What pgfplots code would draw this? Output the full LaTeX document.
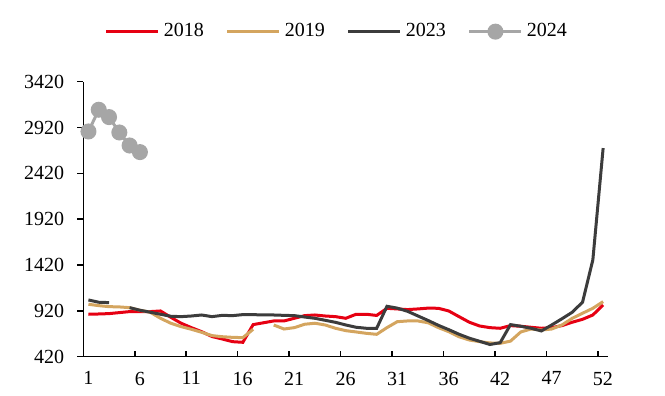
\documentclass[border=0pt]{standalone}
\usepackage{pgfplots}
\pgfplotsset{compat=1.18}
\usepackage{fontspec}
\setmainfont{Liberation Serif}
\definecolor{cRed}{HTML}{E60012}
\definecolor{cGold}{HTML}{D4A55F}
\definecolor{cDark}{HTML}{3C3C3C}
\definecolor{cLight}{HTML}{A6A6A6}
\begin{document}
\begin{tikzpicture}
\path[use as bounding box] (-41.65pt,-19.65pt) rectangle (290.85pt,178.35pt);
\begin{axis}[
  at={(0,0)}, anchor=south west,
  scale only axis, width=262.5pt, height=137.5pt,
  xmin=0.5, xmax=51.5, ymin=420, ymax=3420,
  axis lines=left, axis line style={-, line width=0.75pt},
  ytick={420,920,...,3420},
  xtick={0.5,5.5,...,50.5},
  xticklabels={1,6,11,16,21,26,31,36,42,47,52},
  xticklabel style={xshift=2.5pt, yshift=-4pt},
  yticklabel style={xshift=-3pt},
  x tick style={line width=0.75pt, black},
  y tick style={line width=0.75pt, black},
  xtick align=inside, ytick align=outside,
  major tick length=3pt,
  tick label style={font=\fontsize{10}{12}\selectfont},
  /pgf/number format/assume math mode=true,
  /pgf/number format/1000 sep={},
  unbounded coords=jump,
  legend columns=4,
  legend style={at={(0.485,1.182)}, anchor=center, draw=none, fill=none,
    font=\fontsize{10}{12}\selectfont, column sep=0pt,
    /tikz/every even column/.append style={column sep=9pt}},
  legend image code/.code={\draw[mark repeat=2,mark phase=2,#1] plot coordinates {(0pt,0pt) (13pt,0pt) (26pt,0pt)};},
]
\addplot[cRed, line width=1.5pt, no marks] coordinates {
(1,883)(2,886)(3,890)(4,901)(5,912)(6,912)(7,912)(8,919)(9,850)(10,785)
(11,737)(12,693)(13,640)(14,613)(15,584)(16,577)(17,770)(18,790)(19,810)(20,810)
(21,839)(22,868)(23,875)(24,864)(25,857)(26,839)(27,883)(28,883)(29,870)(30,948)
(31,941)(32,934)(33,941)(34,950)(35,948)(36,919)(37,857)(38,796)(39,755)(40,737)
(41,730)(42,759)(43,752)(44,741)(45,730)(46,737)(47,759)(48,796)(49,828)(50,875)
(51,985)};
\addlegendentry{2018}
\addplot[cGold, line width=1.5pt, no marks] coordinates {
(1,992)(2,977)(3,966)(4,963)(5,955)(6,927)(7,905)(8,839)(9,785)(10,748)
(11,719)(12,686)(13,650)(14,638)(15,631)(16,628)(17,719)(18,nan)(19,766)(20,722)
(21,737)(22,774)(23,785)(24,766)(25,730)(26,704)(27,690)(28,675)(29,664)(30,737)
(31,802)(32,810)(33,810)(34,790)(35,737)(36,693)(37,638)(38,602)(39,584)(40,570)
(41,566)(42,590)(43,690)(44,722)(45,711)(46,722)(47,766)(48,839)(49,894)(50,948)
(51,1021)};
\addlegendentry{2019}
\addplot[cDark, line width=1.5pt, no marks] coordinates {
(1,1039)(2,1014)(3,1010)(4,nan)(5,955)(6,927)(7,905)(8,883)(9,861)(10,857)
(11,864)(12,875)(13,857)(14,871)(15,868)(16,879)(17,879)(18,875)(19,875)(20,871)
(21,868)(22,853)(23,839)(24,817)(25,795)(26,766)(27,741)(28,730)(29,730)(30,970)
(31,950)(32,915)(33,865)(34,815)(35,762)(36,715)(37,665)(38,622)(39,588)(40,553)
(41,573)(42,770)(43,752)(44,730)(45,701)(46,766)(47,834)(48,905)(49,1015)(50,1476)
(51,2696)};
\addlegendentry{2023}
\addplot[cLight, line width=1.5pt, mark=*, mark size=3.25pt, mark options={fill=cLight, draw=cLight}] coordinates {
(1,2877)(2,3114)(3,3034)(4,2866)(5,2724)(6,2652)};
\addlegendentry{2024}
\end{axis}
\end{tikzpicture}
\end{document}
